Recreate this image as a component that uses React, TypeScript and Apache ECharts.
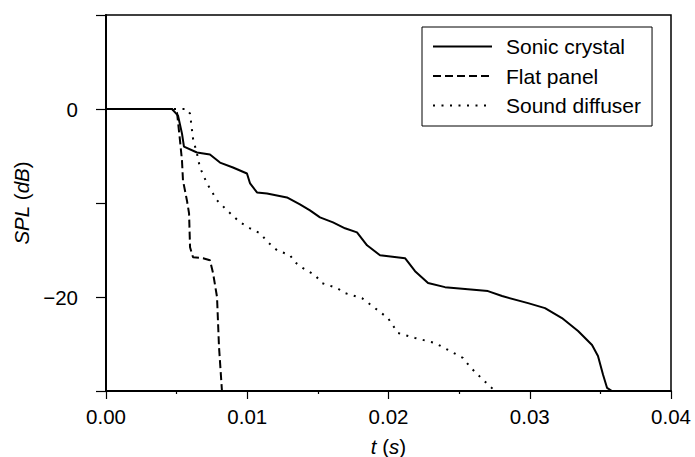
import React, { useEffect, useRef } from "react";
import * as echarts from "echarts";

// Sonic crystal (solid)
const sonicT = [0, 0.00467, 0.0051, 0.00538, 0.00552, 0.00644, 0.00736, 0.00807, 0.00899, 0.00998, 0.0102, 0.01069, 0.0114, 0.01281, 0.01373, 0.01444, 0.01515, 0.01607, 0.01692, 0.01777, 0.01848, 0.0194, 0.02117, 0.02188, 0.0228, 0.024, 0.02704, 0.02804, 0.02988, 0.03108, 0.03228, 0.03342, 0.03441, 0.03483, 0.03519, 0.03547, 0.03582];
const sonicDb = [0, 0, -0.71, -2.62, -4.0, -4.63, -4.85, -5.7, -6.22, -6.86, -7.92, -8.88, -8.98, -9.41, -10.15, -10.78, -11.53, -12.06, -12.69, -13.12, -14.5, -15.56, -15.87, -17.25, -18.52, -18.95, -19.37, -19.9, -20.65, -21.18, -22.24, -23.62, -25.1, -26.27, -28.28, -29.66, -30];

// Flat panel (dashed)
const flatT = [0, 0.00467, 0.00503, 0.00524, 0.00538, 0.00545, 0.00573, 0.00588, 0.00595, 0.00616, 0.00687, 0.00736, 0.00758, 0.00786, 0.008, 0.00821];
const flatDb = [0, 0, -0.4, -3.36, -5.5, -7.6, -9.73, -11.1, -14.7, -15.77, -15.87, -16.09, -17.47, -20.0, -25.3, -30];

// Sound diffuser (dotted)
const diffT = [0, 0.00573, 0.00595, 0.00616, 0.00644, 0.00665, 0.00715, 0.00786, 0.00857, 0.00949, 0.0102, 0.0109, 0.01147, 0.01211, 0.01303, 0.01338, 0.01395, 0.0148, 0.01529, 0.01635, 0.01692, 0.01812, 0.01904, 0.01996, 0.02067, 0.02188, 0.02329, 0.02435, 0.02527, 0.02577, 0.02662, 0.02754];
const diffDb = [0, 0, -0.5, -3.15, -4.74, -6.22, -7.92, -9.72, -10.78, -12.06, -12.69, -13.22, -14.18, -15.03, -15.56, -16.3, -16.93, -17.68, -18.52, -19.05, -19.59, -20.12, -21.18, -22.24, -23.83, -24.36, -24.89, -25.74, -26.48, -27.43, -28.7, -30];

const seriesNames = ["Sonic crystal", "Flat panel", "Sound diffuser"];
const yTickLabels = [0, -20];
const xTickLabels = [0, 0.01, 0.02, 0.03, 0.04];

const zip = (a: number[], b: number[]) => a.map((v, i) => [v, b[i]]);

const FONT = "Liberation Sans, Arial, Helvetica, sans-serif";
const FS = 20.5;

const richName = {
  i: { fontStyle: "italic", fontFamily: FONT, fontSize: FS, color: "#000" },
  n: { fontStyle: "normal", fontFamily: FONT, fontSize: FS, color: "#000" },
};

export default function App() {
  const ref = useRef<HTMLDivElement>(null);
  useEffect(() => {
    if (!ref.current) return;
    const chart = echarts.init(ref.current, null, { renderer: "svg" });
    const lineBase = { color: "#000", width: 2 };
    chart.setOption({
      animation: false,
      backgroundColor: "#fff",
      textStyle: { fontFamily: FONT, color: "#000" },
      grid: {
        left: 106,
        top: 15,
        right: 24,
        bottom: 66,
        show: true,
        borderColor: "#000",
        borderWidth: 1.5,
        containLabel: false,
        outerBoundsMode: "none",
      },
      legend: {
        orient: "vertical",
        left: 422,
        top: 27,
        data: seriesNames,
        borderColor: "#000",
        borderWidth: 1,
        backgroundColor: "#fff",
        padding: [9, 11, 10, 10],
        itemGap: 8.5,
        itemWidth: 59,
        itemHeight: 14,
        itemStyle: { opacity: 0, borderWidth: 0 },
        textStyle: {
          fontFamily: FONT,
          fontSize: 21,
          color: "#000",
          lineHeight: 20,
          padding: [0, 0, 0, 9],
        },
      },
      xAxis: {
        type: "value",
        min: 0,
        max: 0.04,
        interval: 0.01,
        name: "{i|t}{n| (}{i|s}{n|)}",
        nameLocation: "middle",
        nameGap: 45,
        nameTextStyle: { fontFamily: FONT, fontSize: FS, color: "#000", rich: richName },
        axisLine: { show: true, onZero: false, lineStyle: { color: "#000", width: 2 } },
        axisTick: { show: true, inside: false, length: 8, lineStyle: { color: "#000", width: 1.2 } },
        minorTick: { show: true, splitNumber: 2, length: 3, lineStyle: { color: "#000", width: 1.2 } },
        splitLine: { show: false },
        axisLabel: {
          margin: 15,
          fontFamily: FONT,
          fontSize: FS,
          color: "#000",
          formatter: (v: number) =>
            xTickLabels.some((t) => Math.abs(t - v) < 1e-9) ? v.toFixed(2) : "",
        },
      },
      yAxis: {
        type: "value",
        min: -30,
        max: 10,
        interval: 10,
        name: "{i|SPL}{n| (}{i|dB}{n|)}",
        nameLocation: "middle",
        nameRotate: 90,
        nameGap: 74,
        nameTextStyle: { fontFamily: FONT, fontSize: FS, color: "#000", rich: richName },
        axisLine: { show: true, onZero: false, lineStyle: { color: "#000", width: 2 } },
        axisTick: { show: true, inside: false, length: 10, lineStyle: { color: "#000", width: 1.2 } },
        splitLine: { show: false },
        axisLabel: {
          margin: 28,
          fontFamily: FONT,
          fontSize: FS,
          color: "#000",
          formatter: (v: number) =>
            yTickLabels.includes(v) ? (v < 0 ? "\u2212" + Math.abs(v) : String(v)) : "",
        },
      },
      series: [
        {
          name: seriesNames[0],
          type: "line",
          data: zip(sonicT, sonicDb),
          symbol: "none",
          lineStyle: { ...lineBase, type: "solid" },
          itemStyle: { color: "#000" },
          clip: true,
        },
        {
          name: seriesNames[1],
          type: "line",
          data: zip(flatT, flatDb),
          symbol: "none",
          lineStyle: { ...lineBase, type: [8, 4] },
          itemStyle: { color: "#000" },
          clip: true,
        },
        {
          name: seriesNames[2],
          type: "line",
          data: zip(diffT, diffDb),
          symbol: "none",
          lineStyle: { ...lineBase, type: [2, 6.5] },
          itemStyle: { color: "#000" },
          clip: true,
        },
      ],
    });
    return () => chart.dispose();
  }, []);
  return (
    <div
      ref={ref}
      style={{ position: "fixed", left: 0, top: 0, width: 695, height: 457, background: "#fff" }}
    />
  );
}
